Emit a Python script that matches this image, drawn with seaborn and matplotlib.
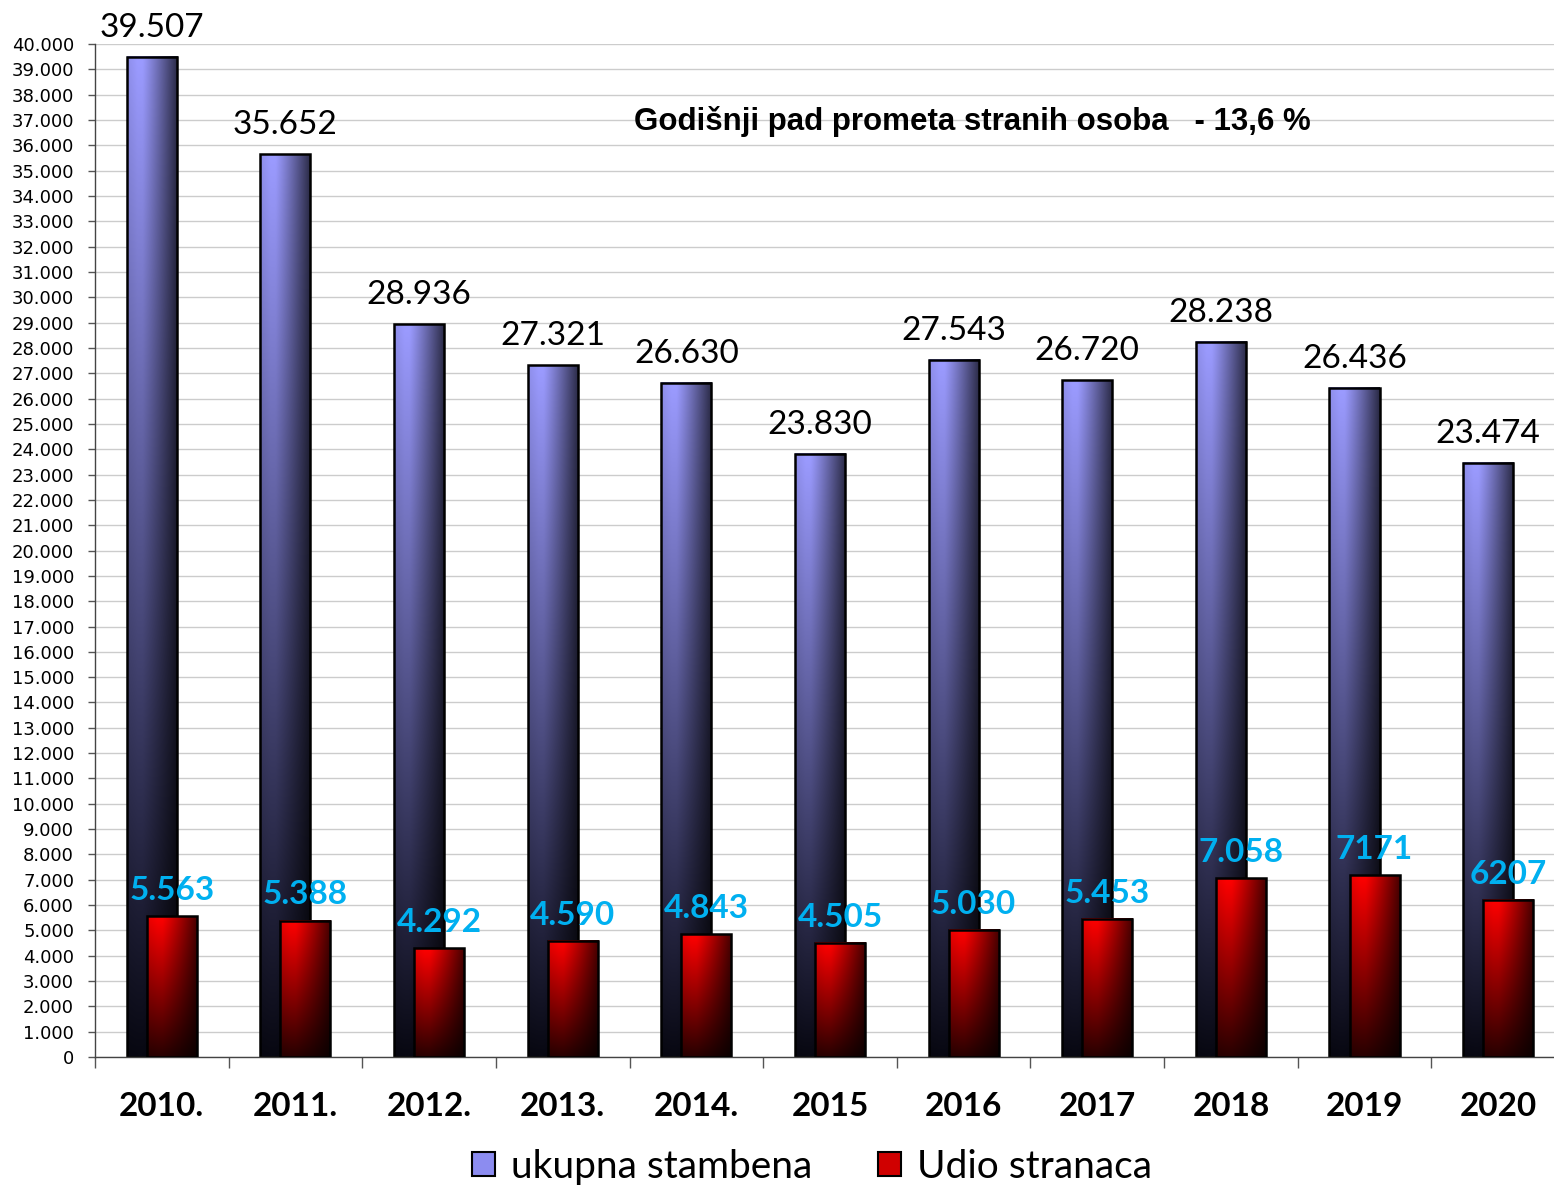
import numpy as np
import matplotlib.pyplot as plt
import seaborn as sns
from matplotlib.ticker import FuncFormatter
from matplotlib.patches import Patch

# data
years = ['2010.', '2011.', '2012.', '2013.', '2014.', '2015', '2016', '2017', '2018', '2019', '2020']
total = [39507, 35652, 28936, 27321, 26630, 23830, 27543, 26720, 28238, 26436, 23474]
foreign = [5563, 5388, 4292, 4590, 4843, 4505, 5030, 5453, 7058, 7171, 6207]
total_labels = ['39.507', '35.652', '28.936', '27.321', '26.630', '23.830', '27.543', '26.720', '28.238', '26.436', '23.474']
foreign_labels = ['5.563', '5.388', '4.292', '4.590', '4.843', '4.505', '5.030', '5.453', '7.058', '7171', '6207']
series_names = ['ukupna stambena', 'Udio stranaca']
title = 'Godišnji pad prometa stranih osoba   - 13,6 %'

sns.set_theme(style='white')
plt.rcParams['font.family'] = ['DejaVu Sans']
plt.rcParams['text.color'] = 'black'
plt.rcParams['xtick.color'] = 'black'
plt.rcParams['ytick.color'] = 'black'


def gradient(top, bottom, n=120):
    # vertical: light at top, dark at bottom; horizontal: darker to the right
    top = np.array(top) / 255.0
    bottom = np.array(bottom) / 255.0
    t = np.linspace(0, 1, n)[:, None, None]
    s = np.linspace(0, 1, 40)[None, :, None]
    col = bottom + (top - bottom) * t
    h = 1 - 0.72 * np.clip((s - 0.3) / 0.7, 0, 1) ** 1.1
    h = h * (0.92 + 0.08 * np.clip(s / 0.2, 0, 1))
    return np.clip(col * h, 0, 1)


fig = plt.figure(figsize=(15.54, 11.87), dpi=100)
ax = fig.add_axes([0.0611, 0.1095, 0.946, 0.8534])

sns.barplot(x=years, y=total, width=0.375, color='#8888ee', errorbar=None, ax=ax)
blue_bars = list(ax.patches)
sns.barplot(x=years, y=foreign, width=0.375, color='red', errorbar=None, ax=ax)
red_bars = list(ax.patches)[len(blue_bars):]

shift = 0.075
blue_img = gradient((155, 155, 255), (8, 8, 18))
red_img = gradient((255, 0, 0), (40, 0, 0))
for bars, dx, img, z in [(blue_bars, -shift, blue_img, 2), (red_bars, shift, red_img, 3)]:
    for p in bars:
        p.set_x(p.get_x() + dx)
        x0, y0, w, h = p.get_x(), p.get_y(), p.get_width(), p.get_height()
        ax.imshow(img, extent=[x0, x0 + w, y0, y0 + h], origin='lower',
                  aspect='auto', interpolation='bilinear', zorder=z)
        p.set_facecolor('none')
        p.set_edgecolor('black')
        p.set_linewidth(1.8)
        p.set_zorder(z + 0.1)

for i in range(len(years)):
    ax.annotate(total_labels[i], (i - shift, total[i]), xytext=(0, 10),
                textcoords='offset points', ha='center', va='bottom',
                fontsize=24, family='Lato', color='black', zorder=6)
    ax.annotate(foreign_labels[i], (i + shift, foreign[i]), xytext=(0, 8),
                textcoords='offset points', ha='center', va='bottom',
                fontsize=24, family='Lato', fontweight='bold', color='#00B0F0', zorder=6)

ax.set_xlim(-0.5, 10.5)
ax.set_ylim(0, 40000)
ax.set_yticks(range(0, 40001, 1000))
ax.yaxis.set_major_formatter(FuncFormatter(lambda v, pos: f'{int(v):,}'.replace(',', '.')))
ax.yaxis.grid(True, color='#cccccc', linewidth=1)
ax.set_axisbelow(True)
ax.tick_params(axis='y', left=True, length=5, width=1, color='#555555', labelsize=13, pad=10)

ax.set_xticks(range(len(years)))
ax.set_xticklabels(years, fontsize=24, fontweight='bold', family='Lato')
ax.set_xticks(np.arange(-0.5, len(years), 1), minor=True)
ax.tick_params(axis='x', which='major', length=0, pad=25)
ax.tick_params(axis='x', which='minor', bottom=True, length=8, width=1, color='#555555')
ax.set_xlabel('')
ax.set_ylabel('')

for side in ['top', 'right']:
    ax.spines[side].set_visible(False)
for side in ['left', 'bottom']:
    ax.spines[side].set_color('#444444')
    ax.spines[side].set_linewidth(1)

fig.text(0.6255, 0.898, title, ha='center', va='center', fontsize=22.5,
         fontweight='bold', family='Liberation Sans', color='black')

handles = [Patch(facecolor='#8c8cf0', edgecolor='black', linewidth=1.5),
           Patch(facecolor='#d00000', edgecolor='black', linewidth=1.5)]
fig.legend(handles, series_names, loc='center', bbox_to_anchor=(0.5225, 0.017), ncol=2,
           frameon=False, prop={'family': 'Lato', 'size': 28}, handlelength=0.6,
           handleheight=0.6, columnspacing=1.7, handletextpad=0.4)

fig.savefig('out.png', dpi=100)
